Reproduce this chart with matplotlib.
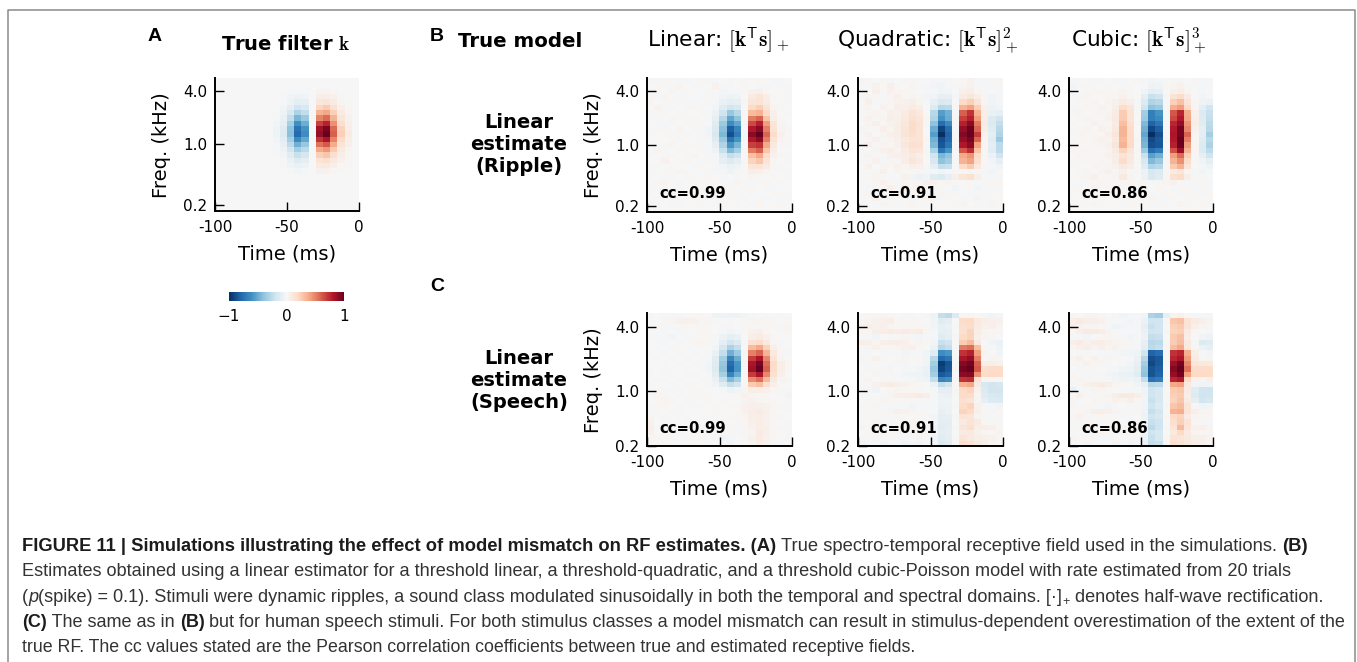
import numpy as np
import matplotlib
matplotlib.use("Agg")
import matplotlib.pyplot as plt
from matplotlib.cm import ScalarMappable
from matplotlib.colors import Normalize
from matplotlib.lines import Line2D

# ---- cell values (percent of full scale), rows top to bottom, columns -100..0 ms in 5 ms bins
true_filter = [
[0]*20,
[0]*20,
[0,0,0,0,0,0,0,0,0,0,-1,-2,-1,0,3,3,2,0,0,0],
[0,0,0,0,0,0,0,0,0,-1,-3,-5,-4,0,6,7,4,1,0,0],
[0,0,0,0,0,0,0,0,0,-1,-5,-10,-8,0,11,13,8,3,1,0],
[0,0,0,0,0,0,0,0,-1,-3,-10,-19,-15,0,21,25,15,5,2,0],
[0,0,0,0,0,0,0,0,-1,-5,-16,-31,-25,0,34,39,24,8,3,0],
[0,0,0,0,0,0,0,0,-2,-7,-24,-46,-37,0,49,56,34,12,4,0],
[0,0,0,0,0,0,0,0,-3,-10,-33,-61,-49,0,68,77,46,17,5,0],
[0,0,0,0,0,0,0,0,-4,-13,-40,-74,-59,0,84,95,57,22,7,0],
[0,0,0,0,0,0,0,0,-4,-14,-42,-78,-62,0,88,100,60,24,8,0],
[0,0,0,0,0,0,0,0,-3,-11,-34,-64,-51,0,72,82,49,19,6,0],
[0,0,0,0,0,0,0,0,-2,-8,-26,-48,-38,0,54,61,37,14,5,0],
[0,0,0,0,0,0,0,0,-2,-6,-18,-34,-27,0,38,43,26,10,3,0],
[0,0,0,0,0,0,0,0,-1,-3,-11,-22,-17,0,24,28,17,6,2,0],
[0,0,0,0,0,0,0,0,0,-2,-7,-13,-10,0,14,16,10,4,1,0],
[0,0,0,0,0,0,0,0,0,-1,-4,-7,-5,0,8,9,5,2,1,0],
[0,0,0,0,0,0,0,0,0,0,-2,-3,-2,0,4,4,2,1,0,0],
[0]*20,
[0]*20,
[0]*20,
[0]*20,
[0]*20,
[0]*20,
[0]*20,
]

ripple_linear = [
[1,-1,2,0,-1,1,0,2,1,-1,0,1,0,-1,1,2,0,-1,1,0],
[0,2,-1,1,3,0,-2,1,0,4,1,-1,0,2,0,-1,1,0,-1,2],
[-2,1,0,3,1,-1,2,0,-1,1,-3,-2,-1,1,4,5,2,0,1,-1],
[1,-1,3,0,-2,1,0,-1,2,-1,-3,-5,-4,0,8,12,6,1,0,1],
[3,0,1,-2,1,2,-1,0,1,-2,-7,-10,-8,1,12,14,8,2,0,-1],
[0,4,-1,1,0,-1,3,1,0,-3,-12,-18,-15,0,20,24,13,3,1,0],
[-1,1,2,0,2,-2,0,1,-1,-6,-20,-38,-28,1,32,35,20,5,0,1],
[2,-1,0,3,-1,1,2,0,-1,-8,-28,-52,-40,0,52,58,28,7,2,0],
[0,1,-2,1,0,2,-1,1,-2,-12,-36,-62,-52,1,66,78,42,12,3,0],
[1,-2,1,0,3,0,1,-1,-3,-14,-42,-82,-66,0,80,90,50,14,3,1],
[-1,0,2,-1,1,1,0,2,-3,-16,-45,-88,-70,-1,90,100,58,18,4,0],
[2,1,0,1,-1,0,-2,1,-2,-13,-38,-74,-60,1,80,90,50,14,3,-1],
[0,-1,1,3,0,1,1,-1,-2,-8,-30,-58,-46,0,68,72,38,10,1,1],
[1,3,-1,0,2,-2,0,1,-1,-5,-22,-44,-34,1,52,60,28,7,0,0],
[-2,0,1,1,0,1,3,0,-1,-2,-12,-24,-20,0,30,38,18,4,2,1],
[0,1,4,0,-1,2,0,-1,1,-2,-8,-14,-10,1,22,28,14,2,0,-1],
[2,-1,0,2,1,0,-1,2,0,-1,-3,-6,-4,0,12,14,8,1,1,0],
[-1,1,2,-1,3,1,0,1,-1,1,-2,-4,-1,2,6,5,3,0,-1,1],
[1,0,-2,1,0,-1,2,0,2,0,-1,0,1,0,3,2,0,1,0,-2],
[0,1,3,0,1,0,1,-1,1,2,0,-1,3,1,-1,1,2,0,1,0],
[-1,2,0,1,-1,2,0,1,0,-1,1,2,0,-1,2,0,1,-1,0,1],
[1,0,1,-1,2,0,-1,1,2,0,1,-1,1,0,1,-1,0,2,1,-1],
[0,-1,2,1,0,1,2,0,-1,1,0,2,-1,1,0,1,-1,0,-1,1],
[2,1,0,-1,1,0,1,1,0,-1,2,0,1,0,-1,2,0,1,1,0],
[0,1,1,0,2,1,0,-1,1,0,1,1,0,2,0,1,1,0,-1,0],
]

ripple_quadratic = [
[3,1,0,2,-1,0,2,1,-1,0,-1,-2,-1,0,2,4,-1,0,1,3],
[1,-2,4,1,5,2,0,3,-1,-2,-3,-4,-2,1,3,4,1,-2,-1,1],
[-1,0,5,2,4,3,1,2,0,-2,-2,-3,-3,0,5,6,2,-1,0,-2],
[2,3,1,-1,2,5,2,3,1,-3,-4,-8,-8,-1,8,12,7,1,-3,-1],
[0,5,-2,1,3,4,4,6,3,-1,-8,-15,-14,0,20,24,13,2,-4,-2],
[1,3,0,4,2,6,5,8,6,0,-14,-28,-26,1,34,40,24,4,-5,-3],
[-1,2,3,1,5,4,8,14,10,0,-28,-55,-48,0,60,72,35,6,-7,-8],
[2,4,1,3,6,5,10,15,12,1,-30,-60,-50,1,68,78,42,7,-14,-18],
[0,3,5,2,4,7,11,18,13,1,-40,-76,-64,0,78,90,52,8,-14,-24],
[3,1,2,5,3,6,12,18,14,0,-50,-92,-76,0,88,98,58,6,-12,-28],
[1,4,0,3,5,6,13,16,14,0,-55,-100,-80,0,92,100,70,4,-10,-30],
[0,2,4,1,3,5,10,14,13,1,-48,-88,-78,1,88,95,58,3,-12,-36],
[2,5,1,3,2,4,11,16,15,0,-45,-85,-72,0,80,90,40,2,-10,-26],
[1,0,3,4,6,3,8,14,11,1,-32,-72,-60,1,62,74,28,2,-11,-26],
[-1,3,2,1,4,5,6,9,7,-1,-20,-46,-40,0,38,44,20,1,-6,-20],
[2,1,4,-1,3,2,7,12,8,0,-16,-40,-35,1,34,40,16,0,-3,-8],
[0,4,0,3,1,4,3,5,4,-1,-10,-24,-22,0,20,25,10,1,-2,-3],
[1,-2,2,5,0,3,1,2,1,1,-1,-3,-2,1,2,3,1,-2,-3,0],
[-1,2,3,1,-1,0,4,-3,-6,-4,-12,-14,-8,6,12,15,6,-1,-2,1],
[2,0,1,4,2,-1,3,2,1,5,4,1,3,1,0,2,-1,1,2,3],
[0,-2,3,1,5,3,6,2,4,1,-1,2,0,-3,-1,1,-3,-1,1,-1],
[1,3,-1,2,0,4,-1,1,3,-2,1,3,-1,2,0,-2,1,-2,2,0],
[-1,1,4,0,3,1,2,-1,0,2,3,-1,1,0,-2,1,-3,1,-1,2],
[2,0,-2,3,1,-1,1,3,1,-1,0,2,0,1,3,0,1,-1,3,1],
[1,2,1,-1,2,1,0,1,2,0,1,0,1,-1,0,1,2,1,0,-1],
]

ripple_cubic = [
[-2,1,0,-1,2,0,1,-1,0,1,-1,-3,-2,0,1,2,0,1,-1,1],
[-3,-1,1,2,0,1,0,1,2,0,-2,-5,-4,1,3,4,2,-1,-2,-1],
[-2,0,2,1,3,1,2,3,1,0,-4,-9,-8,0,5,7,3,0,-1,0],
[1,-1,3,0,2,2,1,4,2,0,-10,-22,-20,1,14,18,8,0,-3,-2],
[0,2,1,3,0,3,4,8,5,-1,-14,-30,-28,0,24,30,13,1,-4,-6],
[-1,1,2,1,4,2,6,18,12,-1,-18,-40,-36,1,36,42,20,2,-10,-18],
[1,3,0,2,3,3,8,25,14,0,-35,-68,-60,0,62,76,36,4,-14,-22],
[0,1,3,1,2,4,10,26,14,0,-36,-68,-64,1,66,80,38,5,-13,-24],
[2,0,1,4,3,2,8,30,15,-1,-44,-80,-72,0,76,88,44,6,-12,-26],
[1,2,3,0,4,3,10,34,18,0,-48,-90,-82,1,80,96,48,4,-10,-28],
[-1,3,1,2,2,5,12,34,20,0,-52,-100,-88,0,82,96,58,3,-10,-34],
[1,0,2,3,4,3,10,32,18,1,-48,-90,-84,1,80,100,50,2,-12,-28],
[0,2,1,2,3,4,12,34,20,0,-46,-88,-85,0,78,98,42,2,-14,-32],
[2,1,3,1,2,3,8,22,12,-1,-36,-76,-70,1,64,86,34,2,-14,-26],
[0,3,1,2,1,4,6,14,9,0,-22,-54,-48,0,42,56,24,1,-8,-20],
[1,-1,2,1,3,2,7,18,9,1,-16,-44,-38,1,34,46,18,1,-4,-10],
[-1,2,0,3,2,3,4,9,6,0,-12,-30,-28,0,26,34,12,0,-2,-4],
[0,1,3,1,3,4,2,4,1,1,-6,-16,-14,1,8,12,3,-2,-3,-1],
[2,1,3,5,2,1,3,9,3,0,-6,-15,-12,2,15,18,6,-1,-2,0],
[0,-1,2,1,3,2,1,2,3,1,2,-1,1,3,4,2,-1,1,2,-1],
[1,2,0,4,1,3,2,1,1,-1,3,0,2,0,-2,1,2,-1,1,0],
[-1,1,3,2,4,1,3,2,0,2,1,-1,0,2,0,-2,1,2,-1,1],
[1,0,2,1,-1,2,0,1,2,0,1,3,1,-1,2,0,-1,1,0,2],
[0,2,-1,3,1,0,2,-1,1,2,0,1,-1,1,0,3,1,0,2,-1],
[2,1,1,0,2,1,0,2,1,0,1,2,0,1,1,0,2,1,1,0],
]

speech_linear = [
[2,0,1,-2,-1,0,1,2,0,-4,-5,-5,-5,-3,-1,0,1,0,-1,0],
[1,0,2,3,4,5,4,3,3,1,0,1,0,2,3,3,2,1,0,1],
[0,2,-1,-2,1,2,1,2,1,0,1,-1,0,1,2,1,1,2,1,3],
[-1,0,1,0,-2,-1,0,1,2,0,-2,-3,-2,1,4,5,2,0,-1,2],
[1,-1,-2,-3,0,-1,1,2,1,-1,-5,-9,-7,0,6,8,4,1,0,0],
[0,1,-1,0,-2,0,2,3,1,-2,-10,-18,-14,1,15,18,10,2,-1,0],
[0,-1,0,1,-1,1,0,2,0,-3,-16,-32,-24,0,32,38,22,5,1,0],
[1,0,-1,0,1,0,-1,0,-1,-7,-24,-48,-36,1,50,58,34,10,2,-1],
[0,1,0,-1,0,-1,0,1,-2,-11,-34,-66,-50,0,70,82,48,14,3,0],
[0,-1,1,0,-1,0,1,-1,-3,-13,-38,-76,-58,1,82,95,56,18,6,1],
[1,0,-1,0,0,-1,0,-1,-3,-14,-40,-80,-60,0,85,100,60,18,6,1],
[-1,0,1,-1,0,1,-1,0,-2,-11,-33,-66,-50,1,70,82,48,15,5,0],
[0,1,-1,0,1,0,0,1,-1,-7,-22,-44,-33,0,47,55,32,9,3,-1],
[1,0,0,-1,0,-1,1,0,1,-4,-12,-24,-18,2,26,30,17,5,2,0],
[0,2,1,-2,1,0,1,1,0,0,-2,-5,-3,3,6,7,4,2,1,-1],
[1,3,2,0,-1,0,1,2,2,1,0,-1,1,4,3,2,2,0,-1,-3],
[0,2,3,1,0,1,1,0,1,0,1,0,0,3,4,3,2,1,0,-2],
[-1,1,2,0,1,0,-1,1,0,1,0,1,2,4,5,5,4,2,1,-2],
[2,1,0,1,-1,0,1,0,1,2,1,0,2,4,7,8,5,1,0,-1],
[3,-1,1,0,1,-1,0,1,0,1,0,1,1,3,6,7,4,2,1,0],
[4,0,-1,1,0,1,-1,0,2,-1,1,0,1,2,5,6,4,1,0,-1],
[5,1,0,-1,0,1,0,1,0,1,0,1,-1,2,4,7,5,1,-1,-2],
[4,0,1,0,-1,0,1,0,1,-1,0,1,-1,1,3,8,5,2,0,-1],
[2,1,0,1,0,1,0,1,0,1,-3,-2,0,1,4,8,4,1,0,-1],
[1,0,1,0,1,0,1,0,-1,0,-2,-3,0,1,3,7,4,1,-1,0],
]

speech_quadratic = [
[0,1,2,3,1,0,1,-1,0,-2,-4,-24,-26,-14,1,2,0,-1,-3,-2],
[1,3,4,5,7,2,1,2,1,0,-3,-12,-10,0,18,20,10,6,5,4],
[5,7,4,5,3,2,1,3,2,1,-3,-8,-7,1,16,18,8,4,5,3],
[3,2,6,7,8,7,8,6,8,3,-2,-10,-8,0,15,22,7,3,2,2],
[-1,-2,-3,0,-1,1,3,-2,-3,-1,-2,-12,-10,1,20,22,5,3,1,0],
[6,5,3,5,6,7,4,2,3,2,-3,-22,-20,0,25,32,10,0,-4,-6],
[2,3,4,2,1,3,4,5,2,0,-6,-28,-24,1,52,55,30,2,-2,-4],
[-1,-2,0,-1,-2,-1,-3,-2,-2,-3,-12,-62,-58,0,72,78,42,3,0,-3],
[3,1,4,2,0,2,3,1,2,-3,-28,-78,-72,1,82,88,50,2,3,1],
[1,-1,2,0,-1,1,-1,0,-1,-4,-34,-95,-86,0,92,96,60,7,6,4],
[0,2,-1,1,3,0,-2,-1,-3,-6,-38,-92,-85,1,96,100,62,16,18,18],
[2,0,3,-1,1,-2,-3,-4,-4,-7,-35,-84,-80,0,90,92,46,18,20,20],
[1,3,0,2,-1,-2,-1,-2,-3,-4,-24,-66,-62,1,72,74,12,3,2,1],
[-1,1,4,6,8,5,4,3,2,0,-6,-24,-18,2,35,38,8,-15,-18,-16],
[3,-2,-4,0,2,3,1,2,1,0,-2,-10,-8,1,20,22,4,-14,-18,-18],
[-1,-2,0,-1,3,5,6,7,8,7,-1,-6,-7,1,20,18,2,-12,-15,-16],
[0,2,1,3,2,1,1,-1,1,-1,-1,-5,-4,0,16,14,3,-8,-14,-14],
[1,-1,3,-1,-2,-1,-2,-3,-2,-2,-2,-6,-5,1,18,22,4,-2,-2,-3],
[2,1,-1,2,3,5,4,3,2,1,-1,-8,-6,0,22,20,5,2,-1,2],
[-1,2,1,-2,1,-1,2,0,1,-1,-3,-9,-8,1,14,12,3,-1,0,-2],
[1,0,3,1,-1,2,-2,1,2,0,-2,-10,-9,0,10,14,8,2,1,-1],
[3,-1,1,2,-2,-1,3,2,1,-1,-3,-11,-9,1,12,16,6,7,5,2],
[0,2,-2,-1,1,3,-1,1,2,1,-2,-10,-8,0,8,10,4,1,2,3],
[2,-1,3,1,2,-2,-1,0,3,0,-3,-12,-10,1,12,9,6,5,4,2],
[-3,-2,-1,-3,-2,-1,-4,-3,-4,-2,-2,-14,-11,0,16,14,10,6,3,2],
]

speech_cubic = [
[2,0,3,3,1,0,-2,-3,-2,-1,-3,-32,-35,-8,3,4,1,-2,-2,-1],
[5,8,6,5,4,-1,-2,-1,-3,-2,-6,-20,-18,1,27,29,14,8,5,3],
[7,4,3,3,2,-2,-4,-3,-2,-1,-8,-22,-18,0,24,26,13,5,3,2],
[2,5,8,8,6,3,-1,0,-2,-1,-7,-20,-18,1,22,24,8,2,0,-1],
[-2,-1,-3,0,2,3,1,-1,-3,-2,-5,-24,-22,0,26,29,7,0,-3,-5],
[5,8,4,7,6,4,3,2,1,-2,-8,-28,-26,1,25,31,9,-2,-14,-12],
[2,4,6,3,5,3,4,2,-1,-1,-10,-26,-24,0,31,38,10,1,-6,-8],
[0,-1,1,0,-1,-2,-1,-3,-3,-4,-18,-80,-76,1,72,76,36,6,-2,-3],
[3,5,2,4,1,3,2,-1,-2,-6,-28,-88,-84,0,76,82,42,8,1,3],
[1,2,4,1,2,-1,0,-2,-3,-8,-34,-90,-84,1,86,96,48,12,10,10],
[0,-2,1,2,0,-1,-2,-4,-5,-10,-38,-86,-82,0,92,100,54,18,18,18],
[2,0,-1,1,-2,-3,-4,-6,-7,-12,-40,-86,-80,1,88,96,40,20,20,18],
[1,3,2,-1,-2,-2,-3,-5,-4,-6,-24,-74,-70,2,76,80,18,4,3,5],
[-1,1,4,7,8,6,3,2,1,-3,-8,-28,-26,1,38,40,10,-3,-4,-3],
[-7,-2,-1,3,3,1,0,-1,-2,-2,-4,-20,-16,0,26,28,8,-12,-20,-20],
[2,5,2,-1,1,3,6,9,10,7,-3,-20,-16,1,24,26,6,-14,-20,-18],
[1,-2,0,3,1,2,4,3,5,2,-3,-22,-16,0,22,28,8,-10,-18,-16],
[3,1,2,-1,-2,-3,-1,0,-1,-2,-4,-20,-14,1,28,32,12,-2,-4,-3],
[0,2,3,5,6,5,3,2,1,1,-4,-23,-18,0,34,36,14,5,3,2],
[2,4,-1,1,2,-1,1,-2,-1,0,-5,-18,-16,1,20,22,8,3,1,2],
[1,-1,2,0,-2,2,1,0,3,1,-3,-22,-20,0,16,24,14,2,1,-1],
[-1,2,1,3,1,-2,2,3,1,-1,-4,-26,-20,1,12,32,12,4,5,3],
[2,0,-1,1,3,2,-1,1,2,0,-4,-20,-16,0,10,20,8,3,2,1],
[3,1,2,-2,-1,1,2,0,1,-1,-5,-22,-16,1,14,12,9,6,5,3],
[-2,-1,-3,-1,-2,0,-3,-2,-3,-2,-6,-24,-22,-2,16,14,10,7,4,2],
]

time_ticks = [-100, -50, 0]
time_labels = ["-100", "-50", "0"]
freq_labels = ["4.0", "1.0", "0.2"]
freq_rows_ripple = [2.43, 12.5, 23.9]     # row position of each frequency tick
freq_rows_speech = [2.6, 14.7, 25.0]
cc_values = ["cc=0.99", "cc=0.91", "cc=0.86"]
colorbar_ticks = [-1, 0, 1]
colorbar_labels = ["\u22121", "0", "1"]

caption_lines = [
 [("FIGURE 11 | Simulations illustrating the effect of model mismatch on RF estimates. (A) ", "bold", "normal"),
  ("True spectro-temporal receptive field used in the simulations. ", "normal", "normal"),
  ("(B)", "bold", "normal")],
 [("Estimates obtained using a linear estimator for a threshold linear, a threshold-quadratic, and a threshold cubic-Poisson model with rate estimated from 20 trials", "normal", "normal")],
 [("(", "normal", "normal"), ("p", "normal", "italic"),
  ("(spike) = 0.1). Stimuli were dynamic ripples, a sound class modulated sinusoidally in both the temporal and spectral domains. [\u00b7]", "normal", "normal"),
  ("+", "sub", "normal"),
  (" denotes half-wave rectification.", "normal", "normal")],
 [("(C)", "bold", "normal"), (" The same as in ", "normal", "normal"), ("(B)", "bold", "normal"),
  (" but for human speech stimuli. For both stimulus classes a model mismatch can result in stimulus-dependent overestimation of the extent of the", "normal", "normal")],
 [("true RF. The cc values stated are the Pearson correlation coefficients between true and estimated receptive fields.", "normal", "normal")],
]

# ---- layout in reference pixels
W, H = 1357, 662
plt.rcParams["mathtext.fontset"] = "cm"
plt.rcParams["font.family"] = "DejaVu Sans"
fig = plt.figure(figsize=(W / 100, H / 100), dpi=100, facecolor="white")


def fx(x):
    return x / W


def fy(y):
    return 1 - y / H


def panel(data, left, right, top, bottom, rows, cc=None, ylabel=False, ylabel_y=145):
    ax = fig.add_axes([fx(left), fy(bottom), (right - left) / W, (bottom - top) / H])
    ax.imshow(np.array(data) / 100.0, cmap="RdBu_r", vmin=-1, vmax=1, aspect="auto",
              interpolation="nearest", extent=[-100, 0, 25, 0])
    for s in ("top", "right"):
        ax.spines[s].set_visible(False)
    for s in ("left", "bottom"):
        ax.spines[s].set_linewidth(1.4)
    ax.set_xticks(time_ticks)
    ax.set_xticklabels(time_labels)
    ax.set_yticks(rows)
    ax.set_yticklabels(freq_labels)
    ax.tick_params(direction="in", length=6.5, width=1, labelsize=11, top=False, right=False)
    ax.tick_params(axis="x", pad=6.5)
    ax.tick_params(axis="y", pad=5.5)
    ax.set_xlabel("Time (ms)", fontsize=14, va="center")
    ax.xaxis.set_label_coords(0.5, -(254 - 211) / 133)
    if ylabel:
        ax.set_ylabel("Freq. (kHz)", fontsize=14, va="center")
        ax.yaxis.set_label_coords(-53.5 / 144, (bottom - ylabel_y) / (bottom - top))
    if cc:
        fig.text(fx(left + 12), fy(198 if bottom < 300 else 433), cc, fontsize=10.7,
                 fontweight="bold", va="baseline", color="black")
    return ax


panel(true_filter, 215, 359, 78, 211, freq_rows_ripple, ylabel=True, ylabel_y=145)
panel(ripple_linear, 647, 792, 78, 212, freq_rows_ripple, cc_values[0], ylabel=True, ylabel_y=145)
panel(ripple_quadratic, 858, 1003, 78, 212, freq_rows_ripple, cc_values[1])
panel(ripple_cubic, 1069, 1213, 78, 212, freq_rows_ripple, cc_values[2])
panel(speech_linear, 647, 792, 313, 446, freq_rows_speech, cc_values[0], ylabel=True, ylabel_y=380)
panel(speech_quadratic, 858, 1003, 313, 446, freq_rows_speech, cc_values[1])
panel(speech_cubic, 1069, 1213, 313, 446, freq_rows_speech, cc_values[2])

# colorbar
cax = fig.add_axes([fx(229), fy(301), (344.5 - 229) / W, 9 / H])
cb = fig.colorbar(ScalarMappable(Normalize(-1, 1), "RdBu_r"), cax=cax, orientation="horizontal",
                  ticks=colorbar_ticks)
cb.ax.set_xticklabels(colorbar_labels)
cb.outline.set_visible(False)
cb.ax.tick_params(length=0, labelsize=11, pad=6)

# headings
fig.text(fx(286), fy(50), r"True filter $\mathbf{k}$", fontsize=14, fontweight="bold",
         ha="center", va="baseline")
fig.text(fx(458), fy(47), "True model", fontsize=14.2, fontweight="bold", va="baseline")
fig.text(fx(647), fy(47), r"Linear: $[\mathbf{k}^{\mathsf{T}}\mathbf{s}]_+$", fontsize=15.6, va="baseline")
fig.text(fx(837), fy(47), r"Quadratic: $[\mathbf{k}^{\mathsf{T}}\mathbf{s}]_+^2$", fontsize=15.6, va="baseline")
fig.text(fx(1071), fy(47), r"Cubic: $[\mathbf{k}^{\mathsf{T}}\mathbf{s}]_+^3$", fontsize=15.6, va="baseline")
for label, y in (("Linear", 128), ("estimate", 150), ("(Ripple)", 172),
                 ("Linear", 364), ("estimate", 386), ("(Speech)", 408)):
    fig.text(fx(519), fy(y), label, fontsize=14, fontweight="bold", ha="center", va="baseline")
for label, x, y in (("A", 148, 41), ("B", 430, 41), ("C", 430, 291)):
    fig.text(fx(x), fy(y), label, fontsize=14, fontweight="bold", family="Liberation Sans", va="baseline")

# outer frame, open at the bottom
frame_color = "#8a8a8a"
fig.add_artist(Line2D([fx(7.5), fx(7.5), fx(1355), fx(1355)], [0, fy(10), fy(10), 0],
                      color=frame_color, lw=1.1, transform=fig.transFigure))

# caption
fig.canvas.draw()
renderer = fig.canvas.get_renderer()
caption_sizes = [13.2, 13.05, 13.05, 13.0, 12.75]
baselines = [551, 576.5, 602, 627, 652.5]
for runs, base, size in zip(caption_lines, baselines, caption_sizes):
    x = 22.0
    for text, weight, style in runs:
        sub = weight == "sub"
        t = fig.text(fx(x), fy(base + (3 if sub else 0)), text, family="Liberation Sans",
                     fontsize=size * (0.7 if sub else 1), fontweight="bold" if weight == "bold" else "normal",
                     fontstyle=style, va="baseline", color="#1c1c1c" if weight == "bold" else "#333333")
        # advance using the text's own measured width (trailing spaces included)
        t2 = fig.text(0, 0, text.replace(" ", "\u00a0"), family="Liberation Sans",
                      fontsize=size * (0.7 if sub else 1), fontweight="bold" if weight == "bold" else "normal",
                      fontstyle=style)
        x += t2.get_window_extent(renderer).width
        t2.remove()

fig.savefig("out.png", dpi=100, facecolor="white")
